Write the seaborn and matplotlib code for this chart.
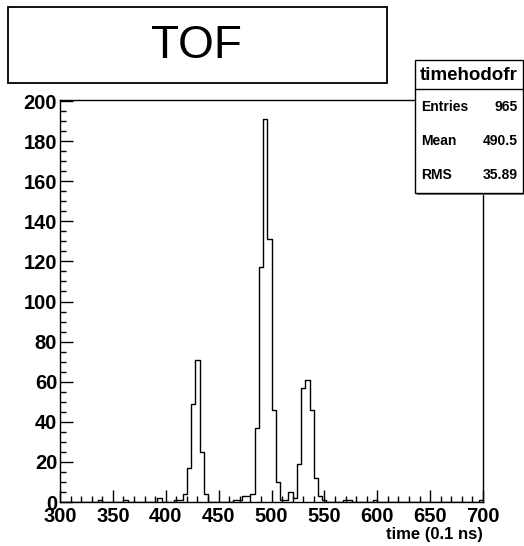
import numpy as np
import pandas as pd
import matplotlib
matplotlib.use("Agg")
import matplotlib.pyplot as plt
from matplotlib.patches import Rectangle
from matplotlib.ticker import MultipleLocator
import seaborn as sns

# ---- data (bin width 4) ----
bin_left = [336, 360, 392, 408, 412, 416, 420, 424, 428, 432, 436,
            464, 468, 472, 476, 480, 484, 488, 492, 496, 500, 504, 508,
            512, 516, 520, 524, 528, 532, 536, 540, 544, 548,
            568, 572, 596, 696]
counts = [1, 1, 2, 1, 1, 4, 17, 49, 71, 25, 4,
          1, 1, 3, 3, 4, 37, 117, 191, 131, 46, 10, 1,
          1, 5, 2, 19, 57, 61, 46, 12, 3, 1,
          1, 1, 1, 1]
x_ticks = [300, 350, 400, 450, 500, 550, 600, 650, 700]
y_ticks = [0, 20, 40, 60, 80, 100, 120, 140, 160, 180, 200]
title = "TOF"
hist_name = "timehodofr"
stat_labels = ["Entries", "Mean", "RMS"]
stat_values = ["965", "490.5", "35.89"]
x_label = "time (0.1 ns)"

sns.set_style("white")
plt.rcParams["font.family"] = ["Liberation Sans", "DejaVu Sans"]
plt.rcParams["text.color"] = "black"

W, H = 524, 546
fig = plt.figure(figsize=(W / 100, H / 100), dpi=100)
fig.patch.set_facecolor("white")


def fx(x):
    return x / W


def fy(y):
    return 1 - y / H


ax = fig.add_axes([fx(60), fy(502), (483 - 60) / W, (502 - 100) / H])

df = pd.DataFrame({"center": np.array(bin_left, dtype=float) + 2.0,
                   "count": np.array(counts, dtype=float)})
edges = [float(e) for e in range(300, 704, 4)]
sns.histplot(data=df, x="center", weights="count", bins=edges,
             element="step", fill=False, color="black", linewidth=1.0, ax=ax)

ax.set_xlim(300, 700)
ax.set_ylim(0, 200.5)
ax.set_xticks(x_ticks)
ax.set_yticks(y_ticks)
ax.xaxis.set_minor_locator(MultipleLocator(10))
ax.yaxis.set_minor_locator(MultipleLocator(5))
ax.tick_params(which="both", bottom=True, left=True, top=False, right=False)
ax.tick_params(which="major", direction="in", length=9, width=1, color="black",
               labelcolor="black", labelsize=14.5, pad=2)
ax.tick_params(axis="x", which="major", pad=3.5)
ax.tick_params(which="minor", direction="in", length=4.5, width=1, color="black")
for lab in ax.get_xticklabels() + ax.get_yticklabels():
    lab.set_fontweight("bold")
ax.set_xlabel("")
ax.set_ylabel("")
for s in ax.spines.values():
    s.set_color("black")
    s.set_linewidth(1)
ax.grid(False)

fig.text(fx(483), fy(535), x_label, ha="right", va="center",
         fontsize=12, fontweight="bold", color="black")

# title box
fig.add_artist(Rectangle((fx(8), fy(83)), (387 - 8) / W, (83 - 7) / H,
                         transform=fig.transFigure, facecolor="white",
                         edgecolor="black", linewidth=1.3))
fig.text(fx(196), fy(46), title, ha="center", va="center", fontsize=33,
         color="black")

# stats box with shadow
fig.add_artist(Rectangle((fx(417), fy(195)), (526 - 417) / W, (195 - 62) / H,
                         transform=fig.transFigure, facecolor="#808080",
                         edgecolor="none"))
fig.add_artist(Rectangle((fx(415), fy(193)), (523 - 415) / W, (193 - 60) / H,
                         transform=fig.transFigure, facecolor="white",
                         edgecolor="black", linewidth=1))
fig.add_artist(plt.Line2D([fx(415), fx(523)], [fy(89), fy(89)],
                          transform=fig.transFigure, color="black", linewidth=1))
fig.text(fx(469), fy(75), hist_name, ha="center", va="center",
         fontsize=13.5, fontweight="bold", color="black")
for i, (lab, val) in enumerate(zip(stat_labels, stat_values)):
    yy = 107 + i * 34
    fig.text(fx(421), fy(yy), lab, ha="left", va="center", fontsize=10,
             fontweight="bold", color="black")
    fig.text(fx(518), fy(yy), val, ha="right", va="center", fontsize=10,
             fontweight="bold", color="black")

fig.savefig("out.png", dpi=100, facecolor="white")
